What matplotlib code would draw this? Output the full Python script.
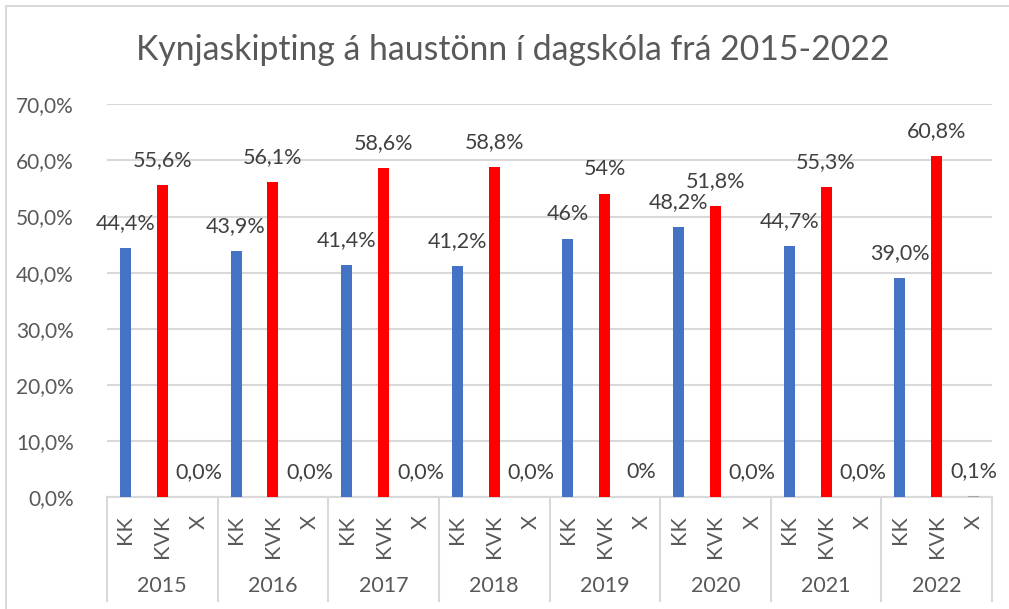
import matplotlib
matplotlib.use("Agg")
import matplotlib.pyplot as plt
import matplotlib.transforms as mtransforms
from matplotlib.patches import Rectangle
import numpy as np

plt.rcParams['font.family'] = ['Lato', 'DejaVu Sans']

# gögn lesin af myndinni
years = ["2015", "2016", "2017", "2018", "2019", "2020", "2021", "2022"]
groups = ["KK", "KVK", "X"]
kk = [44.4, 43.9, 41.4, 41.2, 46.0, 48.2, 44.7, 39.0]
kvk = [55.6, 56.1, 58.6, 58.8, 54.0, 51.8, 55.3, 60.8]
x_vals = [0.0, 0.0, 0.0, 0.0, 0.0, 0.0, 0.0, 0.1]
kk_labels = ["44,4%", "43,9%", "41,4%", "41,2%", "46%", "48,2%", "44,7%", "39,0%"]
kvk_labels = ["55,6%", "56,1%", "58,6%", "58,8%", "54%", "51,8%", "55,3%", "60,8%"]
x_labels = ["0,0%", "0,0%", "0,0%", "0,0%", "0%", "0,0%", "0,0%", "0,1%"]

text_col = "#595959"
grid_col = "#D9D9D9"
colors = ["#4472C4", "#FF0000", "#A5A5A5"]

W, H = 1009, 609
fig = plt.figure(figsize=(W / 100, H / 100), dpi=100)
ax = fig.add_axes([107 / W, (H - 497) / H, (992 - 107) / W, (497 - 104.3) / H])

# ramminn utan um grafið (aðeins efri og vinstri brún sjást)
fig.patches.append(Rectangle((6 / W, -0.1), 1.2, (H - 6) / H + 0.1, transform=fig.transFigure,
                             fill=False, edgecolor=grid_col, linewidth=1.5))

n = len(years)
series = [(kk, kk_labels), (kvk, kvk_labels), (x_vals, x_labels)]
for j, (vals, labs) in enumerate(series):
    pos = np.arange(n) * 3 + j
    ax.bar(pos, vals, width=0.3, color=colors[j], zorder=3)
    for p, v, t in zip(pos, vals, labs):
        ax.annotate(t, (p, v), xytext=(0, 18), textcoords="offset points",
                    ha="center", va="center", fontsize=15.5, color="#404040")

ax.set_xlim(-0.5, n * 3 - 0.5)
ax.set_ylim(0, 70)
ax.set_yticks(np.arange(0, 71, 10))
ax.set_yticklabels([f"{v},0%" for v in range(0, 71, 10)], fontsize=15, color=text_col)
ax.tick_params(axis="y", length=0, pad=24)
ax.tick_params(axis="x", length=0, labelbottom=False)
ax.yaxis.grid(True, color=grid_col, linewidth=1.5, zorder=0)
for s in ["top", "right", "left"]:
    ax.spines[s].set_visible(False)
ax.spines["bottom"].set_color(grid_col)
ax.spines["bottom"].set_linewidth(1.5)

# flokkaás á tveimur hæðum
trans = mtransforms.blended_transform_factory(ax.transData, ax.transAxes)
for i, yr in enumerate(years):
    for j, g in enumerate(groups):
        ax.text(i * 3 + j, -0.046, g, transform=trans, rotation=90, ha="center", va="top",
                fontsize=15.5, color=text_col)
    ax.text(i * 3 + 1, -0.227, yr, transform=trans, ha="center", va="center",
            fontsize=15.5, color=text_col)
for k in range(n + 1):
    ax.plot([k * 3 - 0.5] * 2, [0, -0.265], transform=trans, color=grid_col,
            linewidth=1.5, clip_on=False)

fig.text(513 / W, (H - 50) / H, "Kynjaskipting á haustönn í dagskóla frá 2015-2022",
         ha="center", va="center", fontsize=24.3, color=text_col)

fig.savefig("out.png", dpi=100)
